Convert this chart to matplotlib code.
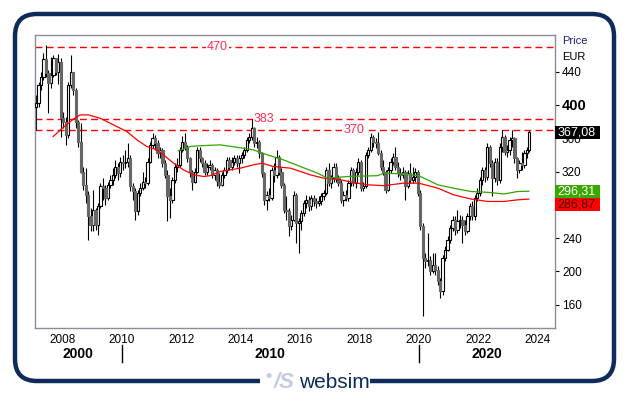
import numpy as np
import pandas as pd
import matplotlib
matplotlib.use("Agg")
import matplotlib.pyplot as plt
from matplotlib.patches import FancyBboxPatch, Rectangle
from matplotlib.transforms import blended_transform_factory

plt.rcParams['font.family'] = ['Liberation Sans', 'DejaVu Sans']

# monthly candles Feb 2007 .. Sep 2023 (open = previous close)
first_open = 398
closes = [
    402, 424, 434, 455, 438, 426, 436, 456, 440, 452, 384,                      # 2007
    380, 364, 424, 440, 418, 380, 356, 320, 304, 292, 266, 256,                 # 2008
    274, 256, 278, 302, 300, 288, 304, 310, 316, 326, 318, 332,                 # 2009
    330, 332, 336, 302, 296, 272, 294, 300, 308, 306, 332, 352,                 # 2010
    360, 354, 342, 346, 330, 316, 290, 286, 310, 326, 328, 346,                 # 2011
    356, 350, 336, 320, 308, 320, 346, 336, 330, 320, 326, 328,                 # 2012
    316, 322, 308, 304, 316, 322, 334, 326, 332, 336, 330, 336,                 # 2013
    340, 346, 358, 362, 372, 354, 356, 342, 318, 286, 292, 288,                 # 2014
    322, 316, 338, 320, 304, 274, 272, 254, 262, 292, 258, 260,                 # 2015
    270, 282, 286, 278, 288, 284, 282, 284, 290, 294, 322, 306,                 # 2016
    312, 326, 312, 306, 286, 292, 288, 306, 322, 306, 320, 332,                 # 2017
    300, 302, 340, 346, 362, 356, 354, 342, 326, 320, 298, 322,                 # 2018
    332, 338, 326, 318, 316, 320, 302, 318, 310, 314, 320, 294,                 # 2019
    254, 216, 212, 214, 200, 208, 202, 188, 176, 216, 226, 238,                 # 2020
    252, 262, 250, 260, 262, 256, 248, 266, 278, 266, 288, 294,                 # 2021
    310, 322, 314, 350, 330, 312, 332, 310, 350, 362, 344, 346,                 # 2022
    358, 360, 336, 322, 330, 328, 342, 346, 367.08,                             # 2023
]
highs = [
    412, 428, 440, 462, 472, 442, 458, 460, 456, 461, 456,
    392, 385, 428, 460, 440, 420, 382, 378, 326, 324, 296, 276,
    298, 276, 282, 306, 312, 304, 308, 316, 324, 334, 330, 338,
    340, 346, 354, 340, 306, 300, 298, 306, 320, 314, 336, 356,
    366, 364, 358, 350, 348, 334, 322, 300, 314, 330, 336, 350,
    363, 366, 352, 338, 322, 324, 350, 350, 338, 334, 330, 334,
    330, 326, 324, 318, 320, 326, 338, 338, 338, 340, 340, 340,
    344, 350, 362, 366, 383, 374, 362, 358, 344, 320, 296, 300,
    326, 330, 346, 340, 324, 306, 290, 276, 268, 296, 294, 264,
    274, 286, 292, 290, 292, 292, 288, 290, 294, 298, 326, 330,
    316, 330, 330, 316, 310, 296, 298, 310, 326, 324, 324, 336,
    334, 308, 344, 350, 366, 364, 360, 368, 346, 334, 322, 326,
    336, 342, 350, 332, 324, 326, 322, 322, 330, 326, 324, 322,
    298, 258, 222, 246, 218, 222, 222, 206, 192, 220, 230, 242,
    256, 266, 266, 274, 268, 266, 262, 270, 282, 284, 292, 300,
    314, 326, 326, 354, 352, 334, 336, 336, 354, 370, 364, 352,
    362, 370, 362, 338, 334, 344, 346, 350, 370,
]
lows = [
    370, 398, 418, 430, 434, 390, 420, 434, 436, 425, 362,
    372, 352, 360, 420, 412, 372, 350, 318, 298, 282, 238, 248,
    248, 250, 244, 276, 286, 280, 286, 300, 304, 312, 310, 314,
    322, 324, 326, 296, 286, 262, 268, 290, 298, 300, 304, 330,
    348, 346, 336, 336, 326, 312, 260, 264, 282, 306, 320, 326,
    344, 346, 332, 314, 298, 306, 318, 332, 326, 316, 316, 322,
    312, 310, 302, 300, 302, 312, 318, 322, 322, 328, 326, 318,
    330, 336, 344, 354, 358, 350, 348, 336, 314, 280, 274, 284,
    286, 308, 312, 316, 300, 270, 262, 242, 250, 260, 234, 222,
    250, 266, 276, 272, 274, 278, 276, 278, 280, 286, 292, 302,
    300, 308, 308, 302, 282, 278, 284, 284, 302, 302, 300, 316,
    296, 296, 300, 336, 344, 350, 348, 340, 322, 316, 294, 296,
    318, 328, 322, 314, 310, 312, 286, 300, 306, 306, 308, 290,
    250, 146, 204, 206, 196, 198, 196, 184, 168, 172, 212, 224,
    234, 248, 244, 246, 252, 234, 244, 246, 262, 262, 262, 284,
    290, 304, 308, 310, 326, 290, 308, 304, 306, 344, 340, 338,
    340, 350, 330, 312, 318, 322, 324, 336, 344,
]

# moving averages (decimal year, price)
ma_red_x = [2007.70, 2008.04, 2008.38, 2008.61, 2008.89, 2009.28, 2009.73, 2010.18,
            2010.52, 2010.85, 2011.19, 2011.41, 2011.75, 2012.08, 2012.42, 2012.76,
            2012.98, 2013.32, 2013.99, 2014.43, 2014.73, 2015.10, 2015.68, 2016.35,
            2016.79, 2017.36, 2017.93, 2018.27, 2018.81, 2019.48, 2019.99, 2020.63,
            2021.16, 2021.74, 2022.31, 2022.85, 2023.32, 2023.69]
ma_red_y = [362, 373, 383, 388, 388, 384, 376, 368, 358, 350, 346, 340, 330, 322, 316, 314,
            315, 320, 324, 328, 330, 326, 324, 316, 312, 310, 306, 304, 303, 306, 306, 300,
            292, 287, 284, 284, 286, 286.87]
ma_green_x = [2011.91, 2012.31, 2012.65, 2013.32, 2014.09, 2014.43, 2014.90, 2015.44,
              2016.01, 2016.59, 2016.92, 2017.60, 2018.61, 2018.81, 2019.48, 2019.99,
              2020.63, 2021.16, 2021.74, 2022.31, 2022.85, 2023.32, 2023.69]
ma_green_y = [345, 350, 351, 352, 348, 346, 340, 334, 326, 318, 312, 314, 315, 318, 317, 315,
              304, 300, 296, 295, 293, 296, 296.31]

levels = [470, 383, 370]
level_label_x = [2013.22, 2014.80, 2017.80]

y_ticks = [160, 200, 240, 280, 320, 360, 400, 440]
x_ticks = [2008, 2010, 2012, 2014, 2016, 2018, 2020, 2022, 2024]
decades = ['2000', '2010', '2020']
decade_breaks = [2010, 2020]

last_price = 367.08
last_green = 296.31
last_red = 286.87

W, H = 629, 395
fig = plt.figure(figsize=(W / 100, H / 100), dpi=100)
fig.patch.set_facecolor('white')

# outer frame + logo (pixel coordinates)
ov = fig.add_axes([0, 0, 1, 1])
ov.set_xlim(0, W)
ov.set_ylim(H, 0)
ov.axis('off')
ov.add_patch(FancyBboxPatch((15, 14), 599, 367, boxstyle='round,pad=0,rounding_size=22',
                            fc='none', ec='#0d2b5b', lw=3.2))
ov.add_patch(Rectangle((260, 370), 110, 24, fc='white', ec='none', zorder=3))
ov.text(268, 378, '•', color='#c3cedd', fontsize=13, ha='center', va='center', zorder=4)
ov.text(284, 382, '/S', color='#c3cedd', fontsize=16, fontweight='bold', style='italic',
        ha='center', va='center', zorder=4)
ov.text(334, 382, 'websim', color='#0d2b5b', fontsize=15, ha='center', va='center', zorder=4)
ov.text(562, 41, 'Price', color='#1a237e', fontsize=8, ha='left', va='center')
ov.text(562, 57, 'EUR', color='black', fontsize=8, ha='left', va='center')

ax = fig.add_axes([35 / W, 1 - 328 / H, 520 / W, 293 / H])
closes = np.array(closes, dtype=float)
highs = np.array(highs, dtype=float)
lows = np.array(lows, dtype=float)
opens = np.r_[first_open, closes[:-1]]
dates = pd.date_range('2007-02-01', periods=len(closes), freq='MS')
x = dates.year + (dates.month - 0.5) / 12
up = closes >= opens

ax.vlines(x, lows, highs, color='black', lw=0.8, zorder=2)
bw = 0.075
ax.bar(x[up], closes[up] - opens[up], bottom=opens[up], width=bw,
       color='white', edgecolor='black', lw=0.8, zorder=3)
ax.bar(x[~up], closes[~up] - opens[~up], bottom=opens[~up], width=bw,
       color='#666666', edgecolor='#666666', lw=0.8, zorder=3)

ax.plot(ma_red_x, ma_red_y, color='#ff0000', lw=0.9, zorder=4)
ax.plot(ma_green_x, ma_green_y, color='#33a500', lw=0.9, zorder=4)

for lv, lx in zip(levels, level_label_x):
    ax.axhline(lv, color='#ff0000', ls=(0, (5, 3)), lw=1, zorder=1)
    ax.text(lx, lv, f'{lv}', color='#ff2a55', fontsize=9, ha='center', va='center',
            zorder=5, bbox=dict(boxstyle='square,pad=0.1', fc='white', ec='none'))

ax.set_xlim(2007.09, 2024.57)
ax.set_ylim(132, 484)
for s in ax.spines.values():
    s.set_color('#8c8c9c')
    s.set_linewidth(1)

ax.set_yticks(y_ticks)
ax.set_yticklabels([str(v) for v in y_ticks])
ax.yaxis.tick_right()
ax.tick_params(axis='y', length=3, width=0.8, color='black', labelsize=8.5, pad=2)
for lbl in ax.get_yticklabels():
    if lbl.get_text() == '400':
        lbl.set_fontweight('bold')
        lbl.set_fontsize(10.5)
ax.set_xticks(x_ticks)
ax.set_xticklabels([str(v) for v in x_ticks])
ax.tick_params(axis='x', length=0, labelsize=8.5, pad=4)

# decade labels and separators below the axis
bt = blended_transform_factory(ax.transData, ax.transAxes)
x0, x1 = ax.get_xlim()
bounds = [x0] + decade_breaks + [x1]
for i, d in enumerate(decades):
    ax.text((bounds[i] + bounds[i + 1]) / 2, -0.089, d, transform=bt, fontsize=10,
            fontweight='bold', ha='center', va='center')
for b in decade_breaks:
    ax.plot([b, b], [-0.058, -0.116], transform=bt, color='black', lw=1, clip_on=False)

# last value boxes on the price axis
rt = blended_transform_factory(ax.transAxes, ax.transData)
box_w = 45 / 520
box_h = 13 * (484 - 132) / 293
green_c = last_green
red_c = min(last_red, green_c - box_h)
for val, c, fc, tc in [(last_price, last_price, 'black', 'white'),
                       (last_green, green_c, '#3aa800', 'white'),
                       (last_red, red_c, '#ff0000', '#4a0000')]:
    ax.add_patch(Rectangle((1.0, c - box_h / 2), box_w, box_h, transform=rt,
                           fc=fc, ec='none', clip_on=False, zorder=6))
    ax.text(1.004, c, f'{val:.2f}'.replace('.', ','), transform=rt, color=tc,
            fontsize=9, ha='left', va='center', zorder=7, clip_on=False)

fig.savefig('out.png', dpi=100)
